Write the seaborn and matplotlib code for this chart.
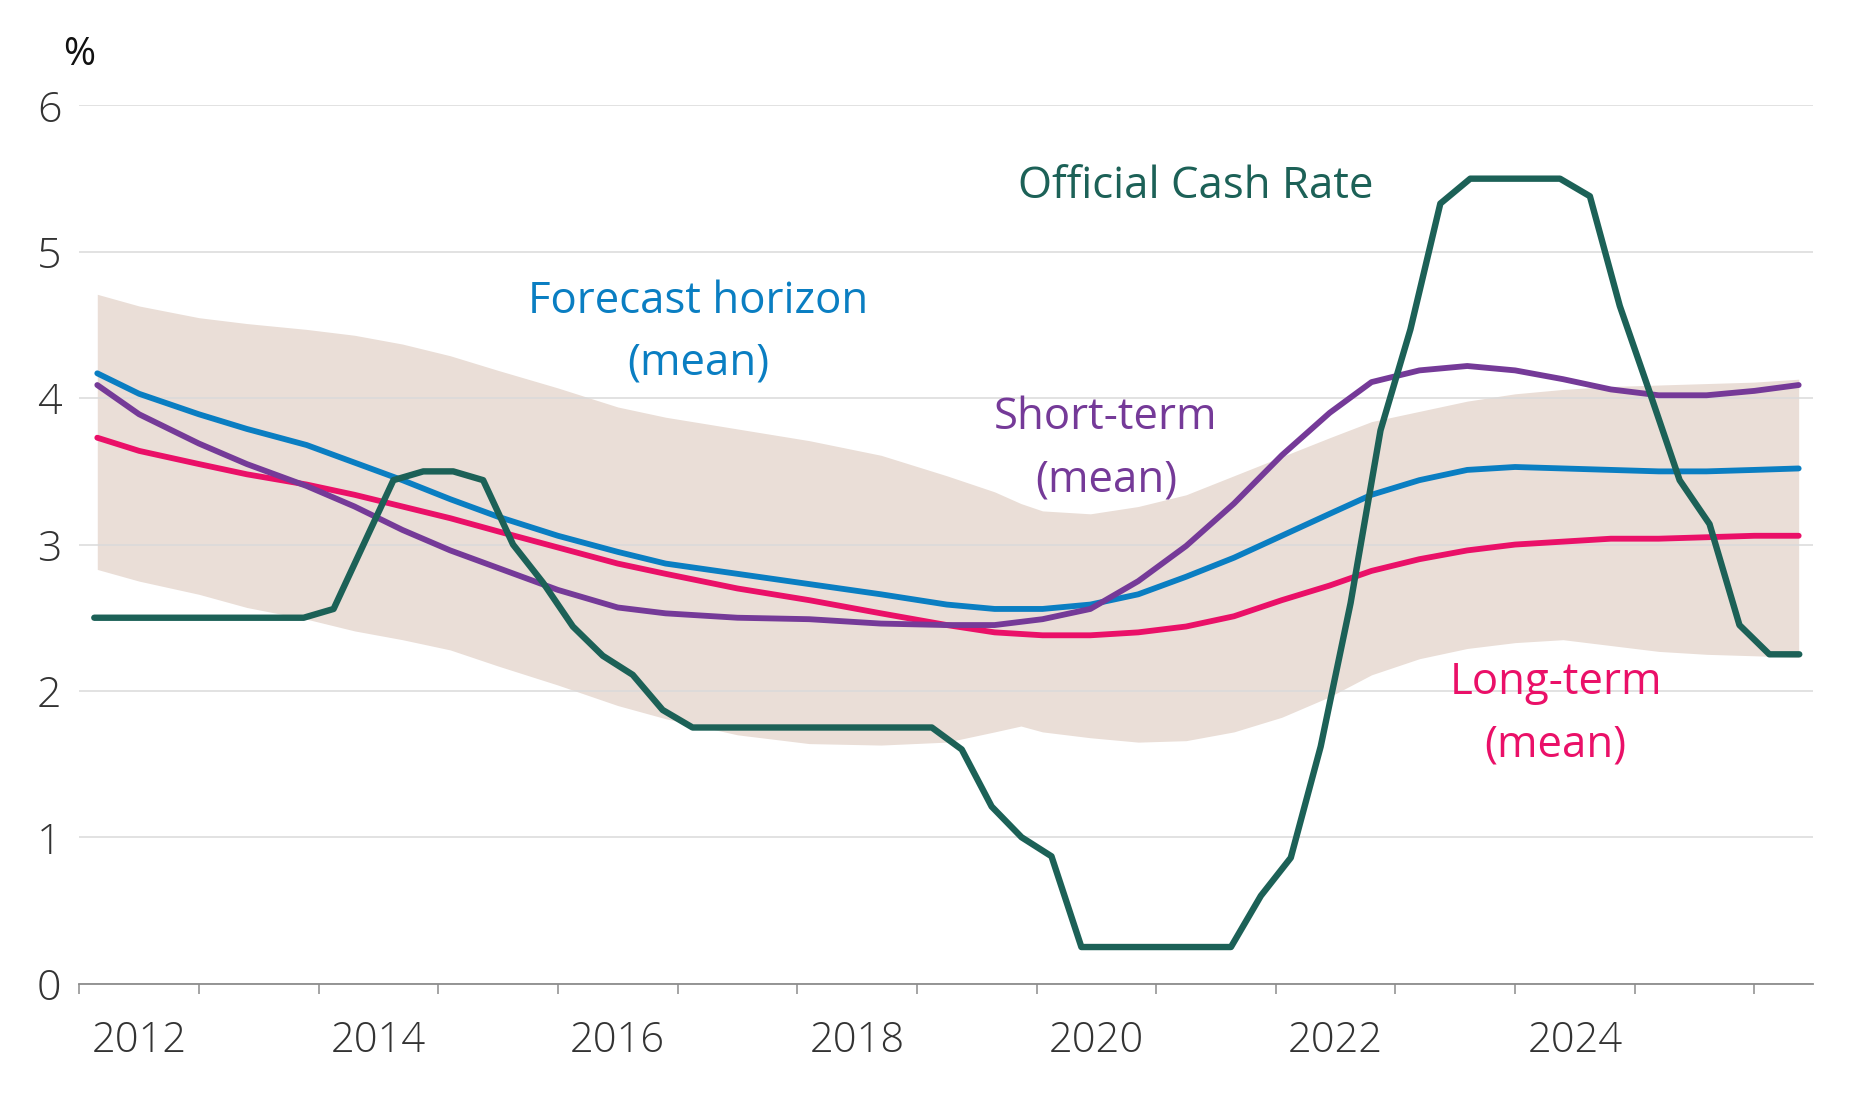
import numpy as np
import pandas as pd
import matplotlib
matplotlib.use("Agg")
import matplotlib.pyplot as plt
import seaborn as sns

# 数据（年份为小数年）
ocr_start = 2012.125
ocr = [2.5, 2.5, 2.5, 2.5, 2.5, 2.5, 2.5, 2.5,
       2.56, 3.0, 3.44, 3.5, 3.5, 3.44, 3.0, 2.74,
       2.44, 2.24, 2.11, 1.87, 1.75, 1.75, 1.75, 1.75,
       1.75, 1.75, 1.75, 1.75, 1.75, 1.60, 1.21, 1.0,
       0.87, 0.25, 0.25, 0.25, 0.25, 0.25, 0.25, 0.60,
       0.86, 1.62, 2.6, 3.78, 4.47, 5.33, 5.5, 5.5,
       5.5, 5.5, 5.38, 4.63, 4.04, 3.44, 3.14, 2.45,
       2.25, 2.25]
ocr_years = [ocr_start + 0.25 * i for i in range(len(ocr))]

years = [2012.15, 2012.5, 2013.0, 2013.4, 2013.9, 2014.3, 2014.7, 2015.1,
         2015.5, 2016.0, 2016.5, 2016.9, 2017.5, 2018.1, 2018.7, 2019.25,
         2019.65, 2020.05, 2020.45, 2020.85, 2021.25, 2021.65, 2022.05, 2022.45,
         2022.8, 2023.2, 2023.6, 2024.0, 2024.4, 2024.8, 2025.2, 2025.6,
         2026.0, 2026.37]

horizon = [4.17, 4.03, 3.89, 3.79, 3.68, 3.56, 3.44, 3.31,
           3.19, 3.06, 2.95, 2.87, 2.80, 2.73, 2.66, 2.59,
           2.56, 2.56, 2.59, 2.66, 2.78, 2.91, 3.06, 3.21,
           3.34, 3.44, 3.51, 3.53, 3.52, 3.51, 3.50, 3.50,
           3.51, 3.52]

short_term = [4.09, 3.89, 3.69, 3.55, 3.40, 3.26, 3.10, 2.96,
              2.84, 2.69, 2.57, 2.53, 2.50, 2.49, 2.46, 2.45,
              2.45, 2.49, 2.56, 2.75, 2.99, 3.28, 3.61, 3.90,
              4.11, 4.19, 4.22, 4.19, 4.13, 4.06, 4.02, 4.02,
              4.05, 4.09]

long_term = [3.73, 3.64, 3.55, 3.48, 3.41, 3.34, 3.26, 3.18,
             3.09, 2.98, 2.87, 2.80, 2.70, 2.62, 2.53, 2.45,
             2.40, 2.38, 2.38, 2.40, 2.44, 2.51, 2.62, 2.72,
             2.82, 2.90, 2.96, 3.00, 3.02, 3.04, 3.04, 3.05,
             3.06, 3.06]

band_years = [2012.15, 2012.5, 2013.0, 2013.4, 2013.9, 2014.3, 2014.7, 2015.1,
              2015.5, 2016.0, 2016.5, 2016.9, 2017.5, 2018.1, 2018.7, 2019.25,
              2019.65, 2019.87, 2020.05, 2020.45, 2020.85, 2021.25, 2021.65, 2022.05,
              2022.45, 2022.8, 2023.2, 2023.6, 2024.0, 2024.4, 2024.8, 2025.2,
              2025.6, 2026.0, 2026.37]
band_upper = [4.71, 4.63, 4.55, 4.51, 4.47, 4.43, 4.37, 4.29,
              4.19, 4.07, 3.94, 3.87, 3.79, 3.71, 3.61, 3.47,
              3.36, 3.28, 3.23, 3.21, 3.26, 3.34, 3.47, 3.60,
              3.73, 3.84, 3.91, 3.98, 4.03, 4.06, 4.08, 4.09,
              4.10, 4.11, 4.13]
band_lower = [2.83, 2.75, 2.66, 2.57, 2.49, 2.41, 2.35, 2.28,
              2.17, 2.04, 1.90, 1.81, 1.70, 1.64, 1.63, 1.65,
              1.72, 1.76, 1.72, 1.68, 1.65, 1.66, 1.72, 1.82,
              1.96, 2.11, 2.22, 2.29, 2.33, 2.35, 2.31, 2.27,
              2.25, 2.24, 2.23]

yticks = [0, 1, 2, 3, 4, 5, 6]
xlabels = ["2012", "2014", "2016", "2018", "2020", "2022", "2024"]

# 颜色
c_ocr = "#1c6157"
c_blue = "#0a7ec2"
c_purple = "#753a98"
c_pink = "#ea1068"
c_band = "#eaded7"

sns.set_theme(style="white")
plt.rcParams['font.family'] = ['Open Sans', 'DejaVu Sans']

fig = plt.figure(figsize=(18.58, 11), dpi=100)
ax = fig.add_axes([0.0427, 0.1058, 0.9331, 0.7983])
ax.set_axisbelow('line')

# 阴影区间
ax.fill_between(band_years, band_lower, band_upper, color=c_band, linewidth=0, zorder=1)

df_mean = pd.DataFrame({"year": years, "horizon": horizon,
                        "short": short_term, "long": long_term})
sns.lineplot(data=df_mean, x="year", y="long", color=c_pink, linewidth=4.2, ax=ax, zorder=3)
sns.lineplot(data=df_mean, x="year", y="horizon", color=c_blue, linewidth=4.2, ax=ax, zorder=3)
sns.lineplot(data=df_mean, x="year", y="short", color=c_purple, linewidth=4.2, ax=ax, zorder=3)
df_ocr = pd.DataFrame({"year": ocr_years, "ocr": ocr})
sns.lineplot(data=df_ocr, x="year", y="ocr", color=c_ocr, linewidth=4.6, ax=ax, zorder=4)

ax.set_xlim(2012.0, 2026.49)
ax.set_ylim(0, 6)
ax.set_xlabel("")
ax.set_ylabel("")

# 坐标轴
for s in ["top", "right", "left"]:
    ax.spines[s].set_visible(False)
ax.spines["bottom"].set_color("#8c8c8c")
ax.spines["bottom"].set_linewidth(1.3)

ax.set_yticks(yticks)
ax.set_yticklabels([str(v) for v in yticks])
ax.tick_params(axis="y", length=0, pad=13, labelsize=31, labelcolor="#333333")
ax.grid(axis="y", color="#dadada", linewidth=1.1)
ax.grid(axis="x", visible=False)

ax.set_xticks([2012.5 + 2 * i for i in range(len(xlabels))])
ax.set_xticklabels(xlabels)
ax.set_xticks(list(range(2012, 2027)), minor=True)
ax.tick_params(axis="x", which="major", length=0, pad=26, labelsize=30, labelcolor="#333333")
ax.tick_params(axis="x", which="minor", length=7, width=1.1, color="#8c8c8c", bottom=True)
for lab in ax.get_xticklabels() + ax.get_yticklabels():
    lab.set_fontweight("light")

# 文字标注
txt = dict(ha="center", va="baseline", fontsize=31.5)
ax.text(2021.33, 5.37, "Official Cash Rate", color=c_ocr, **txt)
ax.text(2017.17, 4.58, "Forecast horizon", color=c_blue, **txt)
ax.text(2017.17, 4.16, "(mean)", color=c_blue, **txt)
ax.text(2020.58, 3.79, "Short-term", color=c_purple, **txt)
ax.text(2020.58, 3.36, "(mean)", color=c_purple, **txt)
ax.text(2024.34, 1.98, "Long-term", color=c_pink, **txt)
ax.text(2024.34, 1.555, "(mean)", color=c_pink, **txt)
ax.text(2012.0, 6.28, "%", ha="center", va="baseline", fontsize=28,
        color="#111111", clip_on=False)

plt.savefig("out.png", dpi=100)
